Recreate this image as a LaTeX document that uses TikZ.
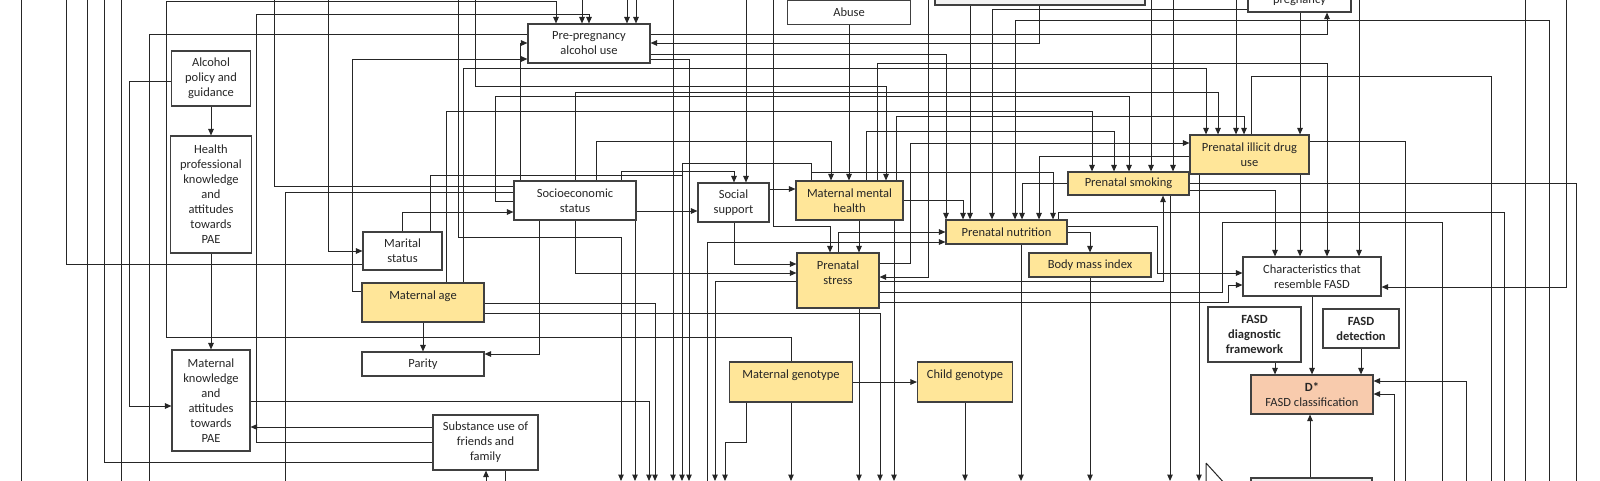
\documentclass[tikz,border=0pt]{standalone}
\usepackage{fontspec}
\setmainfont{Carlito}
\usetikzlibrary{arrows.meta,backgrounds}
\definecolor{expfill}{HTML}{FFE699}
\definecolor{outfill}{HTML}{F8CBAD}
\definecolor{ghostfill}{HTML}{F2F2F2}
\definecolor{edgegray}{HTML}{404040}

\begin{document}
\begin{tikzpicture}[
			x=1pt, y=-1pt,
			box/.style={rectangle, draw=edgegray, line width=1.1pt, fill=white, align=center, inner sep=1pt, text=black!85, font=\fontsize{12.5}{15}\selectfont},
			boldbox/.style={box, font=\fontsize{12.5}{15}\selectfont\bfseries},
			expo/.style={box, fill=expfill},
			outc/.style={box, fill=outfill},
			ghost/.style={box, fill=ghostfill},
			sz/.style 2 args={minimum width=#1pt, minimum height=#2pt},
			ln/.style={line width=1pt, black!85},
			arr/.style={ln, -{Triangle[length=6.5pt,width=5.5pt]}}
		]
		\useasboundingbox (0,0) rectangle (1600,480);
		\coordinate (T) at (0,-6);
		\coordinate (B) at (0,481);

		% Left column
		\node[box, sz={79}{55}] (alc) at (211,78.5) {Alcohol\\policy and\\guidance};
		\node[box, sz={81}{117}] (hpk) at (211,194.5) {Health\\professional\\knowledge\\and\\attitudes\\towards\\PAE};
		\node[box, sz={78}{101}] (mkap) at (211,400.5) {Maternal\\knowledge\\and\\attitudes\\towards\\PAE};

		% Maternal background
		\node[box, sz={79}{38}] (mar) at (402.5,251) {Marital\\status};
		\node[expo, sz={122}{39}] (mage) at (423,302.5) {Maternal age\\\mbox{}};
		\node[box, sz={122}{24}] (par) at (423,364) {Parity};
		\node[box, sz={105}{55}] (sub) at (485.5,442.5) {Substance use of\\friends and\\family};
		\node[box, sz={122}{39}] (ses) at (575,200.5) {Socioeconomic\\status};
		\node[box, sz={122}{39}] (ppal) at (589,43.5) {Pre-pregnancy\\alcohol use};
		\node[box, sz={71}{39}] (soc) at (733.5,202.5) {Social\\support};

		% Exposures
		\node[box, sz={123}{24}] (abuse) at (849,12.5) {Abuse};
		\node[ghost, sz={210}{45}] (topbox) at (1040,-17.5) {};
		\node[box, sz={103}{20}] (preg) at (1299.5,2) {pregnancy};
		\node[expo, sz={107}{39}] (mmh) at (849.5,200.5) {Maternal mental\\health};
		\node[expo, sz={82}{55}] (pstress) at (838,280.5) {Prenatal\\stress\\\mbox{}};
		\node[expo, sz={121}{24}] (pnut) at (1006.5,232) {Prenatal nutrition};
		\node[expo, sz={122}{24}] (bmi) at (1090,265) {Body mass index};
		\node[expo, sz={121}{23}] (psmoke) at (1128.5,183.5) {Prenatal smoking};
		\node[expo, sz={119}{39}] (pdrug) at (1249.5,154.5) {Prenatal illicit drug\\use};
		\node[expo, sz={123}{40}] (mgen) at (791,382) {Maternal genotype\\\mbox{}};
		\node[expo, sz={95}{40}] (cgen) at (965,382) {Child genotype\\\mbox{}};

		% Outcome
		\node[box, sz={138}{39}] (crf) at (1312,276.5) {Characteristics that\\resemble FASD};
		\node[boldbox, sz={93}{55}] (fdf) at (1254.5,334.5) {FASD\\diagnostic\\framework};
		\node[boldbox, sz={76}{39}] (fdet) at (1361,328.5) {FASD\\detection};
		\node[outc, sz={122}{39}] (dstar) at (1312,394.5) {\textbf{D*}\\FASD classification};
		\node[ghost, sz={121}{34}] (botbox) at (1311.5,495) {};

		% Arrows
		\begin{scope}[on background layer]
		\fill[white] (0,0) rectangle (1600,480);
		\foreach \x in {21,87,121,1525} \draw[ln] (\x,0 |- T) -- (\x,0 |- B);
		\draw[arr] (673,0 |- T) -- (673,0 |- B);

		\draw[arr] (alc) -- (hpk);
		\draw[arr] (hpk) -- (mkap);
		\draw[arr] (alc.west |- 0,81) -| (129,406) -- (mkap.west |- 0,406);
		\draw[arr] (sub.west |- 0,427) -- (mkap.east |- 0,427);
		\draw[arr] (sub.west |- 0,442) -| (256,14) -| (589,0 |- ppal.north);
		\draw[ln] (sub.west |- 0,462) -| (104,0 |- T);
		\draw[arr] (486,0 |- B) -- (486,0 |- sub.south);
		\draw[ln] (505,0 |- sub.south) -- (505,0 |- B);
		\draw[arr] (mkap.east |- 0,401) -| (649,0 |- B);

		\draw[ln] (mar.west |- 0,264) -| (66,0 |- T);
		\draw[arr] (328,0 |- T) |- (mar.west |- 0,251);
		\draw[arr] (402,0 |- mar.north) |- (ses.west |- 0,212);
		\draw[arr] (430,0 |- mar.north) |- (682,175) -- (682,0 |- B);

		\draw[arr] (mage.west |- 0,291) -| (352,59) -- (ppal.west |- 0,59);
		\draw[arr] (mage) -- (par);
		\draw[arr] (446,0 |- mage.north) |- (1092,111) -- (1092,0 |- psmoke.north);
		\draw[arr] (463,0 |- mage.north) |- (1206,68) -- (1206,0 |- pdrug.north);
		\draw[arr] (mage.east |- 0,303) -| (655,0 |- B);
		\draw[arr] (mage.east |- 0,313) -| (880,0 |- B);
		\draw[arr] (458,0 |- T) |- (621,237) -- (621,0 |- B);
		\draw[arr] (475,0 |- T) |- (886,86) -- (886,0 |- mmh.north);

		\draw[arr] (ses.west |- 0,201) -| (495,96) -| (1129,0 |- psmoke.north);
		\draw[ln] (ses.west |- 0,186) -| (274,0 |- T);
		\draw[ln] (ses.west |- 0,192) -| (285,0 |- B);
		\draw[arr] (520,0 |- ses.north) |- (ppal.west |- 0,43);
		\draw[arr] (575,0 |- ses.north) |- (1218,92) -- (1218,0 |- pdrug.north);
		\draw[arr] (596,0 |- ses.north) |- (831,141) -- (831,0 |- mmh.north);
		\draw[arr] (621,0 |- ses.north) |- (734,171) -- (734,0 |- soc.north);
		\draw[arr] (ses.east |- 0,211) -- (soc.west |- 0,211);
		\draw[arr] (539,0 |- ses.south) |- (par.east |- 0,354);
		\draw[arr] (575,0 |- ses.south) |- (pstress.west |- 0,273);
		\draw[arr] (635,0 |- ses.south) -- (635,0 |- B);

		\draw[ln] (ppal.west |- 0,34) -| (149,0 |- B);
		\draw[arr] (791,0 |- mgen.north) |- (166,337) |- (556,1) -- (556,0 |- ppal.north);
		\foreach \x in {582,627,636} \draw[arr] (\x,0 |- T) -- (\x,0 |- ppal.north);
		\draw[arr] (ppal.east |- 0,34) -| (1327,0 |- preg.south);
		\draw[arr] (1039,0 |- topbox.south) |- (ppal.east |- 0,43);
		\draw[arr] (ppal.east |- 0,54) -| (946,0 |- pnut.north);
		\draw[arr] (ppal.east |- 0,59) -| (689,0 |- B);

		\draw[arr] (746,0 |- T) -- (746,0 |- soc.north);
		\draw[arr] (soc.east |- 0,189) -- (mmh.west |- 0,189);
		\draw[arr] (734,0 |- soc.south) |- (pstress.west |- 0,264);
		\draw[arr] (773,0 |- T) |- (830,226) -- (830,0 |- pstress.north);

		\draw[arr] (abuse) -- (abuse |- mmh.north);
		\draw[arr] (mmh.east |- 0,200) -| (963,0 |- pnut.north);
		\draw[arr] (859,0 |- mmh.south) -- (859,0 |- pstress.north);
		\draw[arr] (894,0 |- mmh.south) -- (894,0 |- B);
		\draw[arr] (866,0 |- mmh.north) |- (1114,131) -- (1114,0 |- psmoke.north);
		\draw[arr] (896,0 |- mmh.north) |- (1244,116) -- (1244,0 |- pdrug.north);
		\draw[arr] (877,0 |- mmh.north) |- (1327,63) -- (1327,0 |- crf.north);
		\draw[ln] (811,0 |- mmh.north) |- (682,163) -- (682,175);
		\draw[arr] (811,0 |- mmh.north) |- (1053,172) -- (1053,0 |- pnut.north);

		\draw[arr] (838,0 |- pstress.north) |- (pnut.west |- 0,232);
		\draw[arr] (707,0 |- B) |- (pnut.west |- 0,242);
		\draw[arr] (pstress.west |- 0,281) -| (715,0 |- B);
		\draw[arr] (pstress.east |- 0,263) -| (910,143) -- (pdrug.west |- 0,143);
		\draw[arr] (928,0 |- T) |- (pstress.east |- 0,277);
		\draw[arr] (pstress.east |- 0,281) -| (1163,0 |- psmoke.south);
		\draw[arr] (pstress.east |- 0,302) -| (1228,285) -- (crf.west |- 0,285);
		\draw[ln] (pstress.east |- 0,292) -| (1222,222) -| (1442,0 |- B);
		\draw[arr] (859,0 |- pstress.south) -- (859,0 |- B);

		\draw[arr] (pnut.east |- 0,232) -| (bmi.north);
		\draw[arr] (1021,0 |- pnut.south) -- (1021,0 |- B);
		\draw[ln] (1058,0 |- pnut.north) |- (1504,212) -- (1504,0 |- B);
		\draw[arr] (pnut.east |- 0,226) -| (1157,273) -- (crf.west |- 0,273);
		\draw[arr] (psmoke.west) -| (1022,0 |- pnut.north);
		\draw[arr] (970,0 |- topbox.south) -- (970,0 |- pnut.north);
		\draw[arr] (preg.west |- 0,9) -| (992,0 |- pnut.north);
		\draw[arr] (1549,0 |- B) |- (1015,20) -- (1015,0 |- pnut.north);
		\draw[arr] (pdrug.west |- 0,156) -| (1039,0 |- pnut.north);

		\draw[arr] (1300,0 |- pdrug.south) -- (1300,0 |- crf.north);
		\draw[arr] (1199,0 |- pdrug.south) -- (1199,0 |- B);
		\draw[ln] (pdrug.east |- 0,141) -| (1405,0 |- B);
		\draw[ln] (1251,0 |- pdrug.north) |- (1491,76) -- (1491,0 |- B);
		\draw[arr] (1236,0 |- T) -- (1236,0 |- pdrug.north);
		\draw[arr] (1300,0 |- preg.south) -- (1300,0 |- pdrug.north);
		\foreach \x in {1151,1173} \draw[arr] (\x,0 |- T) -- (\x,0 |- psmoke.north);
		\draw[arr] (psmoke.east |- 0,190) -| (1275,0 |- crf.north);
		\draw[ln] (psmoke.east |- 0,183) -| (1576,0 |- B);
		\draw[arr] (1170,0 |- psmoke.south) -- (1170,0 |- B);

		\draw[arr] (1359,0 |- T) -- (1359,0 |- crf.north);
		\draw[arr] (1566,0 |- T) |- (crf.east |- 0,287);
		\draw[arr] (crf) -- (dstar);
		\draw[arr] (1275,0 |- fdf.south) -- (1275,0 |- dstar.north);
		\draw[arr] (fdet) -- (fdet |- dstar.north);
		\draw[arr] (1310,0 |- botbox.north) -- (1310,0 |- dstar.south);
		\draw[arr] (1466,0 |- B) |- (dstar.east |- 0,381);
		\draw[arr] (1394,0 |- B) |- (dstar.east |- 0,394);
		\draw[arr] (bmi) -- (bmi |- B);

		\draw[arr] (mgen) -- (cgen);
		\draw[arr] (mgen) -- (mgen |- B);
		\draw[arr] (746,0 |- mgen.south) |- (725,442) -- (725,0 |- B);
		\draw[arr] (cgen) -- (cgen |- B);
		\draw[ln] (1206,463) -- (1206,485) (1206,463) -- (1226,485);
		\end{scope}

	\end{tikzpicture}
\end{document}
